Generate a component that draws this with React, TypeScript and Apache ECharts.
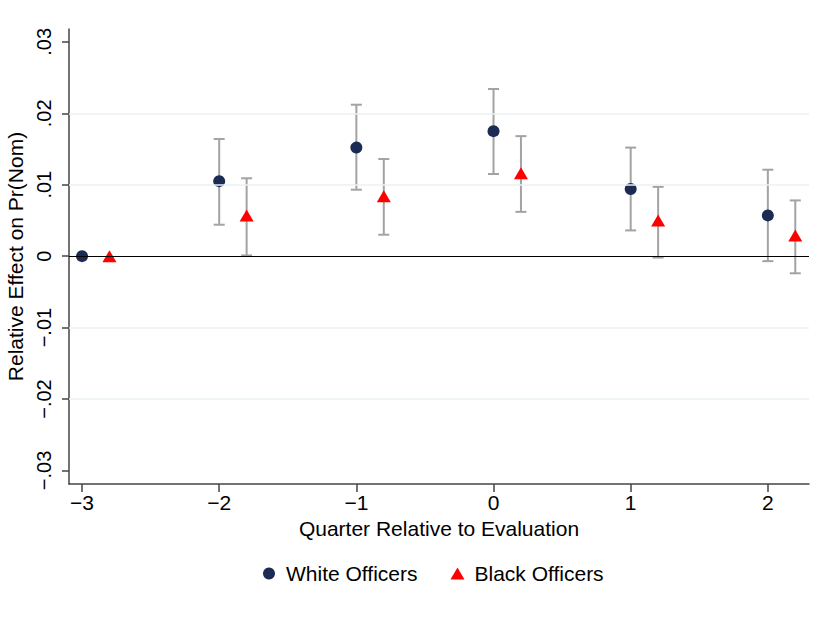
import React, { useEffect, useRef } from "react";
import * as echarts from "echarts";

const quarters = [-3, -2, -1, 0, 1, 2];
const blackOffset = 0.2;
const whiteEst = [0, 0.0105, 0.0152, 0.0175, 0.0094, 0.0057];
const whiteLo = [null, 0.0044, 0.0093, 0.0115, 0.0036, -0.0007];
const whiteHi = [null, 0.0164, 0.0212, 0.0234, 0.0152, 0.0121];
const blackEst = [0, 0.0057, 0.0084, 0.0116, 0.005, 0.0029];
const blackLo = [null, 0.0001, 0.003, 0.0062, -0.0002, -0.0024];
const blackHi = [null, 0.0109, 0.0136, 0.0168, 0.0097, 0.0078];
const yTicks = [-0.03, -0.02, -0.01, 0, 0.01, 0.02, 0.03];
const yGrid = [-0.02, -0.01, 0.01, 0.02];
const xTicks = [-3, -2, -1, 0, 1, 2];
const seriesNames = ["White Officers", "Black Officers"];

const FONT = "'Liberation Sans', Arial, Helvetica, sans-serif";

function fmtY(v: number) {
  if (Math.abs(v) < 1e-9) return "0";
  const s = Math.abs(v).toFixed(2).replace(/^0/, "");
  return (v < 0 ? "\u2212" : "") + s;
}
function fmtX(v: number) {
  const r = Math.round(v);
  return (r < 0 ? "\u2212" : "") + Math.abs(r);
}

export default function App() {
  const ref = useRef<HTMLDivElement>(null);
  useEffect(() => {
    if (!ref.current) return;
    const chart = echarts.init(ref.current, undefined, { renderer: "svg" });

    const errData: any[] = [];
    quarters.forEach((q, i) => {
      if (whiteLo[i] != null) errData.push([q, whiteLo[i], whiteHi[i]]);
      if (blackLo[i] != null) errData.push([q + blackOffset, blackLo[i], blackHi[i]]);
    });

    const option: any = {
      animation: false,
      backgroundColor: "#ffffff",
      textStyle: { fontFamily: FONT },
      grid: {
        left: 69,
        top: 29,
        right: 8,
        bottom: 136,
        outerBoundsMode: "none",
        containLabel: false,
      },
      xAxis: {
        type: "value",
        min: -3.095,
        max: 2.3,
        name: "Quarter Relative to Evaluation",
        nameLocation: "middle",
        nameGap: 25,
        nameTextStyle: { fontSize: 21, color: "#000", fontFamily: FONT },
        axisLine: { show: true, onZero: false, lineStyle: { color: "#444", width: 1.5 } },
        axisTick: { show: true, length: 8, customValues: xTicks, lineStyle: { color: "#444", width: 1.5 } },
        axisLabel: {
          customValues: xTicks,
          formatter: fmtX,
          fontSize: 21,
          color: "#000",
          margin: 8,
          fontFamily: FONT,
        },
        splitLine: { show: false },
      },
      yAxis: {
        type: "value",
        min: -0.0319,
        max: 0.0318,
        name: "Relative Effect on Pr(Nom)",
        nameLocation: "middle",
        nameRotate: 90,
        nameGap: 37,
        nameTextStyle: { fontSize: 21, color: "#000", fontFamily: FONT },
        axisLine: { show: true, onZero: false, lineStyle: { color: "#444", width: 1.5 } },
        axisTick: { show: true, length: 7, customValues: yTicks, lineStyle: { color: "#444", width: 1.5 } },
        axisLabel: {
          customValues: yTicks,
          formatter: fmtY,
          rotate: 90,
          fontSize: 20,
          color: "#000",
          margin: 15,
          fontFamily: FONT,
        },
        splitLine: { show: false },
      },
      legend: {
        data: seriesNames,
        top: 558,
        left: 258,
        itemWidth: 14,
        itemHeight: 12,
        itemGap: 33,
        textStyle: { fontSize: 21, color: "#000", fontFamily: FONT, padding: [0, 0, 0, 5] },
      },
      series: [
        {
          type: "line",
          name: "refs",
          data: [],
          silent: true,
          markLine: {
            silent: true,
            symbol: "none",
            label: { show: false },
            data: [
              ...yGrid.map((v) => ({ yAxis: v, lineStyle: { color: "#eaf2f3", width: 1.5, type: "solid" } })),
              { yAxis: 0, lineStyle: { color: "#000", width: 1.2, type: "solid" } },
            ],
          },
          z: 1,
        },
        {
          type: "custom",
          name: "ci",
          data: errData,
          z: 2,
          silent: true,
          renderItem: (params: any, api: any) => {
            const x = api.value(0);
            const lo = api.coord([x, api.value(1)]);
            const hi = api.coord([x, api.value(2)]);
            const w = 5.5;
            const st = { stroke: "#a3a3a3", lineWidth: 2 };
            return {
              type: "group",
              children: [
                { type: "line", shape: { x1: lo[0], y1: lo[1], x2: hi[0], y2: hi[1] }, style: st },
                { type: "line", shape: { x1: lo[0] - w, y1: lo[1], x2: lo[0] + w, y2: lo[1] }, style: st },
                { type: "line", shape: { x1: hi[0] - w, y1: hi[1], x2: hi[0] + w, y2: hi[1] }, style: st },
              ],
            };
          },
        },
        {
          type: "scatter",
          name: seriesNames[0],
          data: quarters.map((q, i) => [q, whiteEst[i]]),
          symbol: "circle",
          symbolSize: 12,
          itemStyle: { color: "#1c2b53", opacity: 1 },
          z: 3,
        },
        {
          type: "scatter",
          name: seriesNames[1],
          data: quarters.map((q, i) => [q + blackOffset, blackEst[i]]),
          symbol: "triangle",
          symbolSize: [14, 12],
          itemStyle: { color: "#ff0000", opacity: 1 },
          z: 3,
        },
      ],
    };
    chart.setOption(option);
    return () => chart.dispose();
  }, []);
  return (
    <div
      ref={ref}
      style={{ position: "fixed", left: 0, top: 0, width: 817, height: 620, background: "#fff" }}
    />
  );
}
